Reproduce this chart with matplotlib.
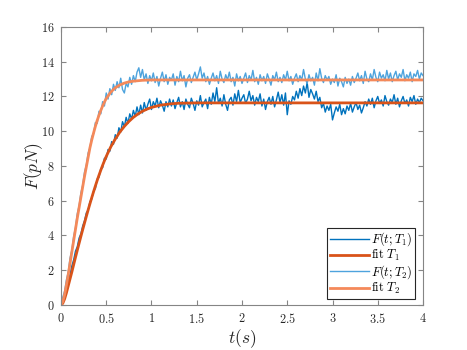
import numpy as np
import matplotlib
matplotlib.use("Agg")
import matplotlib.pyplot as plt
from matplotlib.ticker import FuncFormatter, MultipleLocator

plt.rcParams['mathtext.fontset'] = 'cm'
plt.rcParams['font.family'] = ['DejaVu Serif']

# ---- data ----
t_data = np.round(np.arange(0, 4.0001, 0.02), 2)

F_T1 = [
    0.05, 0.25, 0.55, 0.95, 1.40, 1.75, 2.25, 2.60, 3.10, 3.35,
    3.85, 4.10, 4.55, 4.85, 5.30, 5.45, 5.95, 6.10, 6.55, 6.70,
    7.25, 7.35, 7.85, 7.90, 8.45, 8.40, 8.95, 8.85, 9.40, 9.25,
    9.80, 9.60, 10.20, 9.95, 10.55, 10.25, 10.80, 10.45, 11.00, 10.70,
    11.20, 10.85, 11.40, 10.95, 11.50, 11.05, 11.65, 11.20, 11.55, 11.85,
    11.25, 11.70, 11.45, 11.90, 11.35, 11.75, 11.50, 11.15, 11.70, 11.40,
    11.85,
    11.45, 11.80, 11.30, 11.65, 11.95, 11.40, 11.70, 11.25, 11.85, 11.55,
    11.35, 11.90, 11.60, 11.20, 11.75, 11.50, 12.05, 11.40, 11.65, 11.85,
    11.30, 11.95, 11.55, 12.20, 11.70, 12.50, 11.60, 11.90, 11.45, 12.10,
    11.55, 11.20, 11.80, 11.95, 11.50, 12.15, 11.70, 12.35, 11.65, 11.90,
    12.10, 11.60, 11.85, 12.30, 11.75, 12.05, 11.50, 11.95, 11.70, 12.15,
    11.45, 11.85, 11.25, 11.70, 11.95, 11.55, 12.00, 11.40, 11.80, 12.25,
    11.65, 12.10, 11.50, 12.20, 10.95, 11.75, 11.55, 12.00, 11.80, 12.30,
    11.90, 12.45, 12.05, 12.60, 12.20, 12.80, 11.95, 12.40, 12.15, 11.85,
    12.30, 11.70, 11.95, 11.35, 11.60, 11.10, 11.45, 11.20, 11.55, 10.65,
    11.05, 11.40, 11.15, 11.55, 10.95, 11.30, 11.00, 11.45, 11.20, 11.60,
    11.10, 11.40, 11.65, 11.25, 11.50, 11.05, 11.35, 11.70, 11.45, 11.85,
    11.55, 11.90, 11.35, 11.75, 12.00, 11.60, 11.80, 11.45, 12.05, 11.70,
    11.50, 11.85, 11.65, 12.10, 11.55, 11.90, 11.40, 11.75, 12.00, 11.60,
    11.80, 11.45, 11.95, 11.70, 12.05, 11.55, 11.85, 11.65, 11.90, 11.75,
]

F_T2 = [
    0.10, 0.45, 0.80, 1.45, 1.90, 2.70, 3.15, 3.95, 4.45, 5.25,
    5.70, 6.45, 6.90, 7.65, 8.05, 8.75, 9.05, 9.70, 9.85, 10.50,
    10.45, 11.15, 11.00, 11.70, 11.45, 12.20, 11.85, 12.45, 12.10, 12.70,
    12.35, 12.85, 12.50, 13.05, 12.40, 12.20, 12.75, 12.55, 13.10, 12.70,
    13.20,
    12.85, 13.40, 13.65, 13.10, 13.55, 12.95, 13.30, 12.75, 13.20, 12.90,
    13.35, 12.80, 13.15, 12.60, 13.05, 13.40, 12.85, 13.25, 12.70, 13.10,
    12.95, 13.30, 12.65, 13.15, 12.85, 13.45, 12.90, 13.20, 12.55, 13.05,
    13.25, 12.80, 13.10, 13.40, 12.95, 13.30, 13.70, 13.05, 13.35, 12.85,
    13.15, 12.70, 13.05, 13.35, 12.90, 13.20, 12.75, 13.45, 13.00, 12.80,
    13.25, 12.95, 13.40, 12.85, 13.10, 12.60, 13.30, 12.90, 13.15, 12.75,
    13.05, 13.35, 12.80, 13.20, 12.95, 13.50, 12.85, 13.10, 12.70, 13.25,
    12.90, 13.15, 12.75, 13.30, 13.00, 12.65, 13.20, 12.95, 13.40, 12.85,
    13.10, 12.80, 13.25, 12.95, 13.45, 12.90, 13.15, 12.70, 13.05, 13.30,
    12.85, 13.20, 12.95, 13.55, 13.00, 12.75, 13.25, 12.90, 13.10, 12.65,
    13.35, 12.90, 13.60, 13.05, 12.80, 13.20, 12.95, 13.15, 12.70, 13.00,
    12.80, 13.25, 12.60, 13.05, 12.85, 12.55, 13.10, 12.75, 13.00, 12.65,
    13.15, 12.80, 13.05, 13.35, 12.90, 13.20, 12.75, 13.45, 13.00, 12.85,
    13.30, 12.95, 13.55, 13.10, 12.85, 13.40, 13.05, 13.25, 12.90, 13.50,
    13.00, 13.35, 12.85, 13.20, 13.45, 12.95, 13.30, 13.10, 13.55, 12.90,
    13.25, 13.05, 13.40, 12.85, 13.30, 13.15, 13.50, 13.00, 13.35, 13.20,
]

t_fit1 = [0.00, 0.02, 0.04, 0.06, 0.08, 0.10, 0.12, 0.14, 0.16, 0.18,
          0.20, 0.22, 0.24, 0.26, 0.28, 0.30, 0.32, 0.34, 0.36, 0.38,
          0.40, 0.42, 0.44, 0.46, 0.48, 0.50, 0.55, 0.60, 0.65, 0.70,
          0.75, 0.80, 0.85, 0.90, 0.95, 1.00, 1.10, 1.20, 1.30, 1.50, 4.00]
fit_T1 = [0.00, 0.10, 0.35, 0.70, 1.10, 1.50, 1.90, 2.32, 2.74, 3.15,
          3.55, 3.95, 4.34, 4.72, 5.10, 5.47, 5.83, 6.18, 6.52, 6.85,
          7.17, 7.47, 7.76, 8.04, 8.30, 8.55, 9.10, 9.55, 9.95, 10.28,
          10.56, 10.80, 10.99, 11.15, 11.27, 11.37, 11.50, 11.57, 11.61, 11.63, 11.63]

t_fit2 = [0.00, 0.02, 0.04, 0.06, 0.08, 0.10, 0.12, 0.14, 0.16, 0.18,
          0.20, 0.22, 0.24, 0.26, 0.28, 0.30, 0.32, 0.34, 0.36, 0.38,
          0.40, 0.42, 0.44, 0.46, 0.48, 0.50, 0.55, 0.60, 0.65, 0.70,
          0.75, 0.80, 0.90, 1.00, 4.00]
fit_T2 = [0.00, 0.20, 0.60, 1.15, 1.75, 2.40, 3.05, 3.70, 4.35, 5.00,
          5.60, 6.20, 6.80, 7.40, 7.95, 8.50, 9.05, 9.50, 9.90, 10.28,
          10.62, 10.92, 11.20, 11.45, 11.68, 11.88, 12.25, 12.50, 12.66, 12.77,
          12.84, 12.88, 12.93, 12.95, 12.95]

labels = [r'$F(t;T_1)$', r'$\mathrm{fit}\ T_1$', r'$F(t;T_2)$', r'$\mathrm{fit}\ T_2$']
colors = ['#0072BD', '#D95319', '#4DA3DD', '#F4895A']

# ---- figure ----
fig = plt.figure(figsize=(4.67, 3.5), dpi=100)
ax = fig.add_axes([0.1306, 0.1286, 0.7752, 0.7944])

ax.plot(t_data, F_T1, color=colors[0], lw=1.0, label=labels[0])
ax.plot(t_fit1, fit_T1, color=colors[1], lw=2.0, label=labels[1])
ax.plot(t_data, F_T2, color=colors[2], lw=1.0, label=labels[2])
ax.plot(t_fit2, fit_T2, color=colors[3], lw=2.0, label=labels[3])

ax.set_xlim(0, 4)
ax.set_ylim(0, 16)
ax.xaxis.set_major_locator(MultipleLocator(0.5))
ax.yaxis.set_major_locator(MultipleLocator(2))
fmt = FuncFormatter(lambda v, p: r'$%g$' % v)
ax.xaxis.set_major_formatter(fmt)
ax.yaxis.set_major_formatter(fmt)

edge = '#858585'
for s in ax.spines.values():
    s.set_color(edge)
    s.set_linewidth(0.8)
ax.tick_params(direction='in', length=3.5, width=0.8, color=edge,
               top=True, right=True, labelsize=8.8, labelcolor='#262626')
ax.tick_params(axis='x', pad=5)
ax.tick_params(axis='y', pad=4.5)

ax.set_xlabel(r'$t(s)$', fontsize=12.5, color='#262626', labelpad=1)
ax.set_ylabel(r'$F(pN)$', fontsize=12.5, color='#262626', labelpad=-3)

leg = ax.legend(loc='lower right', bbox_to_anchor=(0.977, 0.022),
                bbox_transform=ax.transAxes,
                fontsize=9, frameon=True, fancybox=False,
                borderpad=0.2, labelspacing=0.0, handlelength=3.1,
                handletextpad=0.2, borderaxespad=0.0)
leg.get_frame().set_edgecolor('#262626')
leg.get_frame().set_linewidth(0.8)
leg.get_frame().set_alpha(1)

fig.savefig('out.png', dpi=100)
